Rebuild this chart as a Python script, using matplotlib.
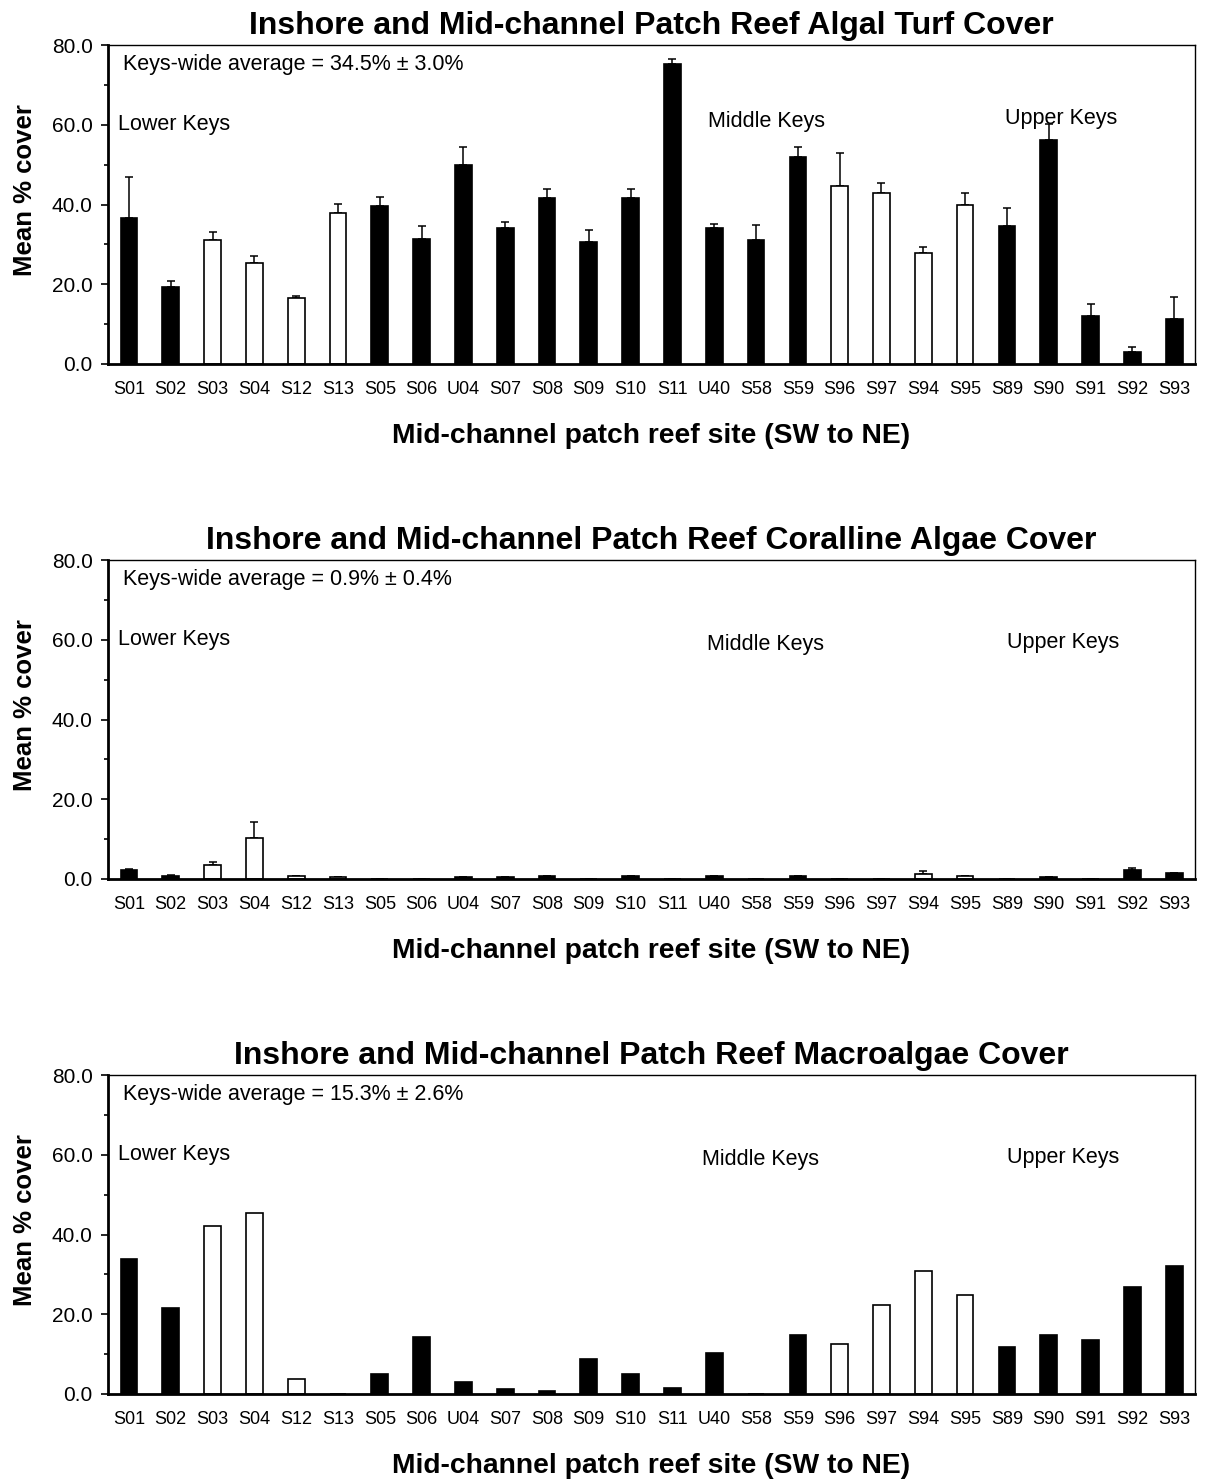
import matplotlib
matplotlib.use('Agg')
import matplotlib.pyplot as plt
from matplotlib.ticker import MultipleLocator, FormatStrFormatter

plt.rcParams['font.family'] = ['Liberation Sans', 'DejaVu Sans']

sites = ['S01', 'S02', 'S03', 'S04', 'S12', 'S13', 'S05', 'S06', 'U04', 'S07', 'S08', 'S09', 'S10',
         'S11', 'U40', 'S58', 'S59', 'S96', 'S97', 'S94', 'S95', 'S89', 'S90', 'S91', 'S92', 'S93']

# sites drawn as open (white) bars
openSites = ['S03', 'S04', 'S12', 'S13', 'S96', 'S97', 'S94', 'S95']

turfMean = [36.6, 19.2, 31.0, 25.3, 16.6, 37.8, 39.7, 31.4, 49.9, 34.0, 41.6, 30.6, 41.6,
            75.2, 34.0, 31.0, 51.8, 44.6, 43.0, 27.9, 40.0, 34.7, 56.3, 12.1, 3.0, 11.4]
turfErr = [10.2, 1.5, 2.2, 1.8, 0.4, 2.3, 2.2, 3.3, 4.5, 1.7, 2.2, 2.9, 2.2,
           1.4, 1.2, 3.8, 2.6, 8.3, 2.3, 1.5, 3.0, 4.5, 3.8, 2.9, 1.2, 5.3]

corallineMean = [2.2, 0.8, 3.4, 10.2, 0.75, 0.5, 0.0, 0.0, 0.5, 0.5, 0.8, 0.0, 0.8,
                 0.0, 0.8, 0.0, 0.8, 0.0, 0.0, 1.2, 0.75, 0.0, 0.5, 0.0, 2.3, 1.5]
corallineErr = [0.3, 0.3, 0.8, 4.1, 0.1, 0.0, 0.0, 0.0, 0.0, 0.0, 0.0, 0.0, 0.0,
                0.0, 0.0, 0.0, 0.0, 0.0, 0.0, 0.8, 0.1, 0.0, 0.0, 0.0, 0.4, 0.0]

macroMean = [33.9, 21.6, 42.2, 45.3, 3.7, 0.0, 4.9, 14.4, 3.1, 1.2, 0.8, 8.75, 4.9,
             1.5, 10.25, 0.0, 14.75, 12.5, 22.25, 30.9, 24.9, 11.7, 14.75, 13.6, 26.8, 32.1]

titles = ['Inshore and Mid-channel Patch Reef Algal Turf Cover',
          'Inshore and Mid-channel Patch Reef Coralline Algae Cover',
          'Inshore and Mid-channel Patch Reef Macroalgae Cover']
averages = ['Keys-wide average = 34.5% \u00b1 3.0%',
            'Keys-wide average = 0.9% \u00b1 0.4%',
            'Keys-wide average = 15.3% \u00b1 2.6%']

# region label positions (x in axes fraction, y in data units)
regionLabels = ['Lower Keys', 'Middle Keys', 'Upper Keys']
regionX = [[0.009, 0.552, 0.825], [0.009, 0.551, 0.827], [0.009, 0.546, 0.827]]
regionY = [[60.0, 60.7, 61.7], [60.0, 58.8, 59.4], [60.0, 58.9, 59.4]]

fig = plt.figure(figsize=(12.07, 14.82), dpi=100)
axBottoms = [0.7544, 0.4069, 0.0594]
series = [(turfMean, turfErr), (corallineMean, corallineErr), (macroMean, None)]

for i in range(3):
    ax = fig.add_axes([0.0895, axBottoms[i], 0.9006, 0.2152])
    mean, err = series[i]
    x = range(len(sites))
    colors = ['white' if s in openSites else 'black' for s in sites]
    ax.bar(x, mean, width=0.4, color=colors, edgecolor='black', linewidth=1.2, zorder=2)
    if err is not None:
        ax.errorbar(x, mean, yerr=[[0] * len(err), err], fmt='none', ecolor='black',
                    elinewidth=1.1, capsize=3, capthick=1.1, zorder=1)

    ax.set_xlim(-0.5, len(sites) - 0.5)
    ax.set_ylim(0, 80)
    ax.yaxis.set_major_locator(MultipleLocator(20))
    ax.yaxis.set_minor_locator(MultipleLocator(10))
    ax.yaxis.set_major_formatter(FormatStrFormatter('%.1f'))
    ax.set_xticks(list(x))
    ax.set_xticklabels(sites)
    ax.tick_params(axis='x', length=0, pad=12, labelsize=13)
    ax.tick_params(axis='y', which='major', length=5, width=1.2, pad=6, labelsize=15)
    ax.tick_params(axis='y', which='minor', length=3, width=1.2)

    ax.spines['left'].set_linewidth(2)
    ax.spines['bottom'].set_linewidth(2)
    ax.spines['top'].set_linewidth(1)
    ax.spines['right'].set_linewidth(1)

    ax.set_title(titles[i], fontsize=23, fontweight='bold', pad=8)
    ax.set_xlabel('Mid-channel patch reef site (SW to NE)', fontsize=20.3, fontweight='bold', labelpad=18)
    ax.set_ylabel('Mean % cover', fontsize=18.5, fontweight='bold')
    ax.yaxis.set_label_coords(-0.065, 0.545)

    ax.text(0.014, 75.2, averages[i], transform=ax.get_yaxis_transform(), fontsize=15.5, va='center')
    for j in range(3):
        ax.text(regionX[i][j], regionY[i][j], regionLabels[j], transform=ax.get_yaxis_transform(),
                fontsize=15.5, va='center')

fig.savefig('out.png', dpi=100)
